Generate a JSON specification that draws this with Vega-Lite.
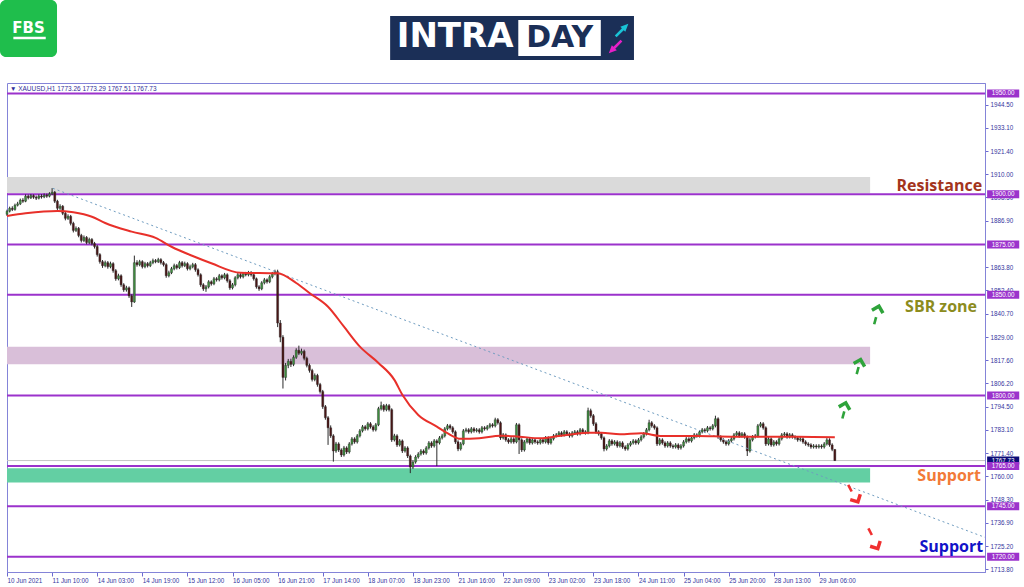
{
"$schema": "https://vega.github.io/schema/vega-lite/v6.json",
"width": 978, "height": 489,
"autosize": {"type": "none"},
"padding": {"left": 7, "top": 83, "right": 39, "bottom": 15},
"background": "white",
"config": {"view": {"stroke": "#8484d8", "strokeWidth": 1}, "text": {"font": "Liberation Sans"}, "scale": {"continuousPadding": 0}},
"resolve": {"scale": {"color": "independent", "size": "independent"}, "axis": {"x": "independent", "y": "independent"}},
"datasets": {
"candles": [
{"i":0,"o":1890.0,"h":1892.3,"l":1889.2,"c":1891.5},{"i":1,"o":1891.5,"h":1893.8,"l":1890.9,"c":1893.0},{"i":2,"o":1893.0,"h":1894.0,"l":1891.6,"c":1892.4},{"i":3,"o":1892.4,"h":1895.3,"l":1891.8,"c":1894.5},{"i":4,"o":1894.5,"h":1896.2,"l":1893.9,"c":1895.2},{"i":5,"o":1895.2,"h":1897.8,"l":1894.6,"c":1897.0},{"i":6,"o":1897.0,"h":1898.0,"l":1895.7,"c":1896.5},{"i":7,"o":1896.5,"h":1899.9,"l":1896.0,"c":1899.0},{"i":8,"o":1899.0,"h":1899.8,"l":1897.4,"c":1898.2},{"i":9,"o":1898.2,"h":1900.1,"l":1897.6,"c":1899.3},
{"i":10,"o":1899.3,"h":1899.9,"l":1897.7,"c":1898.5},{"i":11,"o":1898.5,"h":1899.3,"l":1897.1,"c":1898.0},{"i":12,"o":1898.0,"h":1899.9,"l":1897.4,"c":1899.1},{"i":13,"o":1899.1,"h":1900.0,"l":1897.8,"c":1898.6},{"i":14,"o":1898.6,"h":1900.4,"l":1898.0,"c":1899.5},{"i":15,"o":1899.5,"h":1900.3,"l":1898.2,"c":1899.0},{"i":16,"o":1899.0,"h":1901.0,"l":1898.4,"c":1900.2},{"i":17,"o":1900.2,"h":1903.0,"l":1899.5,"c":1901.0},{"i":18,"o":1901.0,"h":1901.6,"l":1895.6,"c":1896.5},{"i":19,"o":1896.5,"h":1897.2,"l":1892.1,"c":1893.0},
{"i":20,"o":1893.0,"h":1895.0,"l":1892.2,"c":1894.0},{"i":21,"o":1894.0,"h":1894.6,"l":1889.6,"c":1890.5},{"i":22,"o":1890.5,"h":1891.3,"l":1887.0,"c":1888.0},{"i":23,"o":1888.0,"h":1890.0,"l":1887.2,"c":1889.0},{"i":24,"o":1889.0,"h":1889.7,"l":1884.5,"c":1885.5},{"i":25,"o":1885.5,"h":1886.3,"l":1881.0,"c":1882.0},{"i":26,"o":1882.0,"h":1884.0,"l":1881.2,"c":1883.0},{"i":27,"o":1883.0,"h":1883.7,"l":1878.6,"c":1879.5},{"i":28,"o":1879.5,"h":1880.3,"l":1876.0,"c":1877.0},{"i":29,"o":1877.0,"h":1879.5,"l":1876.2,"c":1878.5},
{"i":30,"o":1878.5,"h":1879.2,"l":1875.1,"c":1876.0},{"i":31,"o":1876.0,"h":1878.4,"l":1875.2,"c":1877.5},{"i":32,"o":1877.5,"h":1878.2,"l":1874.6,"c":1875.5},{"i":33,"o":1875.5,"h":1876.3,"l":1873.0,"c":1874.0},{"i":34,"o":1874.0,"h":1874.8,"l":1869.0,"c":1870.0},{"i":35,"o":1870.0,"h":1870.7,"l":1865.5,"c":1866.5},{"i":36,"o":1866.5,"h":1867.3,"l":1863.4,"c":1864.5},{"i":37,"o":1864.5,"h":1867.0,"l":1863.7,"c":1866.0},{"i":38,"o":1866.0,"h":1866.8,"l":1863.0,"c":1864.0},{"i":39,"o":1864.0,"h":1866.5,"l":1863.2,"c":1865.5},
{"i":40,"o":1865.5,"h":1866.2,"l":1861.0,"c":1862.0},{"i":41,"o":1862.0,"h":1862.8,"l":1857.0,"c":1858.0},{"i":42,"o":1858.0,"h":1860.5,"l":1857.2,"c":1859.5},{"i":43,"o":1859.5,"h":1860.2,"l":1854.0,"c":1855.0},{"i":44,"o":1855.0,"h":1855.8,"l":1851.5,"c":1852.5},{"i":45,"o":1852.5,"h":1854.5,"l":1851.6,"c":1853.5},{"i":46,"o":1853.5,"h":1854.2,"l":1848.5,"c":1849.5},{"i":47,"o":1849.5,"h":1850.3,"l":1844.0,"c":1846.5},{"i":48,"o":1846.5,"h":1869.5,"l":1846.0,"c":1866.0},{"i":49,"o":1866.0,"h":1867.2,"l":1864.0,"c":1865.0},
{"i":50,"o":1865.0,"h":1867.4,"l":1864.2,"c":1866.5},{"i":51,"o":1866.5,"h":1867.2,"l":1863.1,"c":1864.0},{"i":52,"o":1864.0,"h":1866.4,"l":1863.2,"c":1865.5},{"i":53,"o":1865.5,"h":1866.3,"l":1863.6,"c":1864.5},{"i":54,"o":1864.5,"h":1866.9,"l":1863.8,"c":1866.0},{"i":55,"o":1866.0,"h":1868.0,"l":1865.2,"c":1867.0},{"i":56,"o":1867.0,"h":1867.8,"l":1865.7,"c":1866.5},{"i":57,"o":1866.5,"h":1868.4,"l":1865.8,"c":1867.5},{"i":58,"o":1867.5,"h":1868.2,"l":1865.1,"c":1866.0},{"i":59,"o":1866.0,"h":1866.8,"l":1864.1,"c":1865.0},
{"i":60,"o":1865.0,"h":1865.7,"l":1858.5,"c":1859.5},{"i":61,"o":1859.5,"h":1862.0,"l":1858.7,"c":1861.0},{"i":62,"o":1861.0,"h":1863.9,"l":1860.3,"c":1863.0},{"i":63,"o":1863.0,"h":1865.5,"l":1862.2,"c":1864.5},{"i":64,"o":1864.5,"h":1865.3,"l":1862.6,"c":1863.5},{"i":65,"o":1863.5,"h":1866.9,"l":1862.8,"c":1866.0},{"i":66,"o":1866.0,"h":1866.8,"l":1863.6,"c":1864.5},{"i":67,"o":1864.5,"h":1866.5,"l":1863.8,"c":1865.5},{"i":68,"o":1865.5,"h":1866.2,"l":1862.1,"c":1863.0},{"i":69,"o":1863.0,"h":1865.0,"l":1862.2,"c":1864.0},
{"i":70,"o":1864.0,"h":1865.9,"l":1863.2,"c":1865.0},{"i":71,"o":1865.0,"h":1865.8,"l":1861.5,"c":1862.5},{"i":72,"o":1862.5,"h":1863.2,"l":1859.1,"c":1860.0},{"i":73,"o":1860.0,"h":1860.7,"l":1854.0,"c":1855.0},{"i":74,"o":1855.0,"h":1855.8,"l":1852.0,"c":1853.0},{"i":75,"o":1853.0,"h":1854.9,"l":1851.5,"c":1854.0},{"i":76,"o":1854.0,"h":1857.3,"l":1853.2,"c":1856.5},{"i":77,"o":1856.5,"h":1857.2,"l":1854.6,"c":1855.5},{"i":78,"o":1855.5,"h":1858.9,"l":1854.8,"c":1858.0},{"i":79,"o":1858.0,"h":1858.8,"l":1856.6,"c":1857.5},
{"i":80,"o":1857.5,"h":1860.4,"l":1856.7,"c":1859.5},{"i":81,"o":1859.5,"h":1860.2,"l":1857.6,"c":1858.5},{"i":82,"o":1858.5,"h":1860.9,"l":1857.7,"c":1860.0},{"i":83,"o":1860.0,"h":1860.7,"l":1856.1,"c":1857.0},{"i":84,"o":1857.0,"h":1857.8,"l":1852.5,"c":1853.5},{"i":85,"o":1853.5,"h":1855.9,"l":1852.7,"c":1855.0},{"i":86,"o":1855.0,"h":1859.3,"l":1854.2,"c":1858.5},{"i":87,"o":1858.5,"h":1860.9,"l":1857.7,"c":1860.0},{"i":88,"o":1860.0,"h":1860.8,"l":1858.1,"c":1859.0},{"i":89,"o":1859.0,"h":1861.3,"l":1858.2,"c":1860.5},
{"i":90,"o":1860.5,"h":1861.4,"l":1859.2,"c":1860.0},{"i":91,"o":1860.0,"h":1861.9,"l":1859.2,"c":1861.0},{"i":92,"o":1861.0,"h":1861.8,"l":1859.1,"c":1860.0},{"i":93,"o":1860.0,"h":1860.7,"l":1857.1,"c":1858.0},{"i":94,"o":1858.0,"h":1858.6,"l":1853.1,"c":1854.0},{"i":95,"o":1854.0,"h":1854.8,"l":1852.0,"c":1853.0},{"i":96,"o":1853.0,"h":1856.8,"l":1852.3,"c":1856.0},{"i":97,"o":1856.0,"h":1858.4,"l":1855.2,"c":1857.5},{"i":98,"o":1857.5,"h":1858.2,"l":1855.6,"c":1856.5},{"i":99,"o":1856.5,"h":1859.9,"l":1855.8,"c":1859.0},
{"i":100,"o":1859.0,"h":1861.4,"l":1858.2,"c":1860.5},{"i":101,"o":1860.5,"h":1862.5,"l":1859.7,"c":1861.5},{"i":102,"o":1861.5,"h":1862.5,"l":1834.0,"c":1836.0},{"i":103,"o":1836.0,"h":1837.5,"l":1826.5,"c":1829.0},{"i":104,"o":1829.0,"h":1830.0,"l":1803.5,"c":1809.0},{"i":105,"o":1809.0,"h":1816.2,"l":1807.5,"c":1815.0},{"i":106,"o":1815.0,"h":1818.2,"l":1813.6,"c":1817.0},{"i":107,"o":1817.0,"h":1818.3,"l":1814.2,"c":1815.5},{"i":108,"o":1815.5,"h":1820.0,"l":1814.6,"c":1819.0},{"i":109,"o":1819.0,"h":1823.5,"l":1818.2,"c":1822.5},
{"i":110,"o":1822.5,"h":1824.8,"l":1820.1,"c":1821.0},{"i":111,"o":1821.0,"h":1823.3,"l":1820.0,"c":1822.0},{"i":112,"o":1822.0,"h":1822.8,"l":1817.5,"c":1818.5},{"i":113,"o":1818.5,"h":1819.3,"l":1814.0,"c":1815.0},{"i":114,"o":1815.0,"h":1815.9,"l":1811.4,"c":1812.5},{"i":115,"o":1812.5,"h":1813.3,"l":1807.0,"c":1808.0},{"i":116,"o":1808.0,"h":1811.0,"l":1807.1,"c":1810.0},{"i":117,"o":1810.0,"h":1810.8,"l":1804.4,"c":1805.5},{"i":118,"o":1805.5,"h":1806.3,"l":1801.0,"c":1802.0},{"i":119,"o":1802.0,"h":1802.8,"l":1793.4,"c":1794.5},
{"i":120,"o":1794.5,"h":1795.3,"l":1788.0,"c":1789.0},{"i":121,"o":1789.0,"h":1789.8,"l":1775.5,"c":1784.0},{"i":122,"o":1784.0,"h":1785.2,"l":1779.0,"c":1780.0},{"i":123,"o":1780.0,"h":1780.8,"l":1767.2,"c":1772.5},{"i":124,"o":1772.5,"h":1777.0,"l":1771.6,"c":1776.0},{"i":125,"o":1776.0,"h":1776.8,"l":1772.0,"c":1773.0},{"i":126,"o":1773.0,"h":1773.8,"l":1769.5,"c":1770.5},{"i":127,"o":1770.5,"h":1775.0,"l":1769.7,"c":1774.0},{"i":128,"o":1774.0,"h":1774.8,"l":1771.0,"c":1772.0},{"i":129,"o":1772.0,"h":1776.9,"l":1771.2,"c":1776.0},
{"i":130,"o":1776.0,"h":1779.4,"l":1775.2,"c":1778.5},{"i":131,"o":1778.5,"h":1779.3,"l":1776.1,"c":1777.0},{"i":132,"o":1777.0,"h":1780.9,"l":1776.2,"c":1780.0},{"i":133,"o":1780.0,"h":1783.4,"l":1779.2,"c":1782.5},{"i":134,"o":1782.5,"h":1785.4,"l":1781.7,"c":1784.5},{"i":135,"o":1784.5,"h":1785.3,"l":1782.6,"c":1783.5},{"i":136,"o":1783.5,"h":1786.9,"l":1782.7,"c":1786.0},{"i":137,"o":1786.0,"h":1786.8,"l":1783.6,"c":1784.5},{"i":138,"o":1784.5,"h":1785.3,"l":1782.1,"c":1783.0},{"i":139,"o":1783.0,"h":1786.4,"l":1782.2,"c":1785.5},
{"i":140,"o":1785.5,"h":1794.4,"l":1784.8,"c":1793.5},{"i":141,"o":1793.5,"h":1797.0,"l":1792.6,"c":1795.0},{"i":142,"o":1795.0,"h":1795.8,"l":1792.0,"c":1793.0},{"i":143,"o":1793.0,"h":1795.9,"l":1792.2,"c":1795.0},{"i":144,"o":1795.0,"h":1795.8,"l":1792.1,"c":1793.0},{"i":145,"o":1793.0,"h":1793.7,"l":1777.0,"c":1778.0},{"i":146,"o":1778.0,"h":1781.0,"l":1777.2,"c":1780.0},{"i":147,"o":1780.0,"h":1780.8,"l":1774.5,"c":1775.5},{"i":148,"o":1775.5,"h":1778.4,"l":1774.7,"c":1777.5},{"i":149,"o":1777.5,"h":1778.2,"l":1771.5,"c":1772.5},
{"i":150,"o":1772.5,"h":1774.9,"l":1771.7,"c":1774.0},{"i":151,"o":1774.0,"h":1774.8,"l":1769.0,"c":1770.0},{"i":152,"o":1770.0,"h":1770.7,"l":1761.5,"c":1764.5},{"i":153,"o":1764.5,"h":1767.9,"l":1763.6,"c":1767.0},{"i":154,"o":1767.0,"h":1770.4,"l":1766.2,"c":1769.5},{"i":155,"o":1769.5,"h":1771.9,"l":1768.7,"c":1771.0},{"i":156,"o":1771.0,"h":1773.4,"l":1770.2,"c":1772.5},{"i":157,"o":1772.5,"h":1773.3,"l":1770.6,"c":1771.5},{"i":158,"o":1771.5,"h":1774.9,"l":1770.7,"c":1774.0},{"i":159,"o":1774.0,"h":1777.4,"l":1773.2,"c":1776.5},
{"i":160,"o":1776.5,"h":1777.3,"l":1774.1,"c":1775.0},{"i":161,"o":1775.0,"h":1778.4,"l":1774.2,"c":1777.5},{"i":162,"o":1777.5,"h":1778.3,"l":1765.0,"c":1776.5},{"i":163,"o":1776.5,"h":1779.9,"l":1775.7,"c":1779.0},{"i":164,"o":1779.0,"h":1781.0,"l":1778.2,"c":1780.0},{"i":165,"o":1780.0,"h":1784.4,"l":1779.2,"c":1783.5},{"i":166,"o":1783.5,"h":1785.9,"l":1782.7,"c":1785.0},{"i":167,"o":1785.0,"h":1785.8,"l":1783.1,"c":1784.0},{"i":168,"o":1784.0,"h":1784.8,"l":1781.1,"c":1782.0},{"i":169,"o":1782.0,"h":1782.7,"l":1776.0,"c":1777.0},
{"i":170,"o":1777.0,"h":1777.8,"l":1772.4,"c":1773.5},{"i":171,"o":1773.5,"h":1776.9,"l":1772.7,"c":1776.0},{"i":172,"o":1776.0,"h":1783.4,"l":1775.3,"c":1782.5},{"i":173,"o":1782.5,"h":1784.0,"l":1781.7,"c":1783.0},{"i":174,"o":1783.0,"h":1783.8,"l":1781.1,"c":1782.0},{"i":175,"o":1782.0,"h":1784.4,"l":1781.2,"c":1783.5},{"i":176,"o":1783.5,"h":1784.3,"l":1781.6,"c":1782.5},{"i":177,"o":1782.5,"h":1783.9,"l":1781.7,"c":1783.0},{"i":178,"o":1783.0,"h":1783.8,"l":1781.1,"c":1782.0},{"i":179,"o":1782.0,"h":1784.9,"l":1781.2,"c":1784.0},
{"i":180,"o":1784.0,"h":1784.8,"l":1782.6,"c":1783.5},{"i":181,"o":1783.5,"h":1785.4,"l":1782.7,"c":1784.5},{"i":182,"o":1784.5,"h":1786.4,"l":1783.7,"c":1785.5},{"i":183,"o":1785.5,"h":1786.3,"l":1784.1,"c":1785.0},{"i":184,"o":1785.0,"h":1789.0,"l":1784.2,"c":1788.0},{"i":185,"o":1788.0,"h":1788.8,"l":1785.6,"c":1786.5},{"i":186,"o":1786.5,"h":1787.2,"l":1778.0,"c":1779.0},{"i":187,"o":1779.0,"h":1781.4,"l":1778.2,"c":1780.5},{"i":188,"o":1780.5,"h":1781.2,"l":1777.1,"c":1778.0},{"i":189,"o":1778.0,"h":1778.8,"l":1776.1,"c":1777.0},
{"i":190,"o":1777.0,"h":1779.4,"l":1776.2,"c":1778.5},{"i":191,"o":1778.5,"h":1779.3,"l":1776.1,"c":1777.0},{"i":192,"o":1777.0,"h":1786.4,"l":1776.3,"c":1785.5},{"i":193,"o":1785.5,"h":1786.2,"l":1771.0,"c":1778.0},{"i":194,"o":1778.0,"h":1778.8,"l":1772.0,"c":1773.0},{"i":195,"o":1773.0,"h":1777.9,"l":1772.2,"c":1777.0},{"i":196,"o":1777.0,"h":1779.4,"l":1776.2,"c":1778.5},{"i":197,"o":1778.5,"h":1779.2,"l":1775.6,"c":1776.5},{"i":198,"o":1776.5,"h":1778.9,"l":1775.7,"c":1778.0},{"i":199,"o":1778.0,"h":1778.8,"l":1776.1,"c":1777.0},
{"i":200,"o":1777.0,"h":1777.8,"l":1775.6,"c":1776.5},{"i":201,"o":1776.5,"h":1778.9,"l":1775.7,"c":1778.0},{"i":202,"o":1778.0,"h":1778.8,"l":1776.1,"c":1777.0},{"i":203,"o":1777.0,"h":1779.9,"l":1776.2,"c":1779.0},{"i":204,"o":1779.0,"h":1779.8,"l":1775.6,"c":1776.5},{"i":205,"o":1776.5,"h":1779.4,"l":1775.7,"c":1778.5},{"i":206,"o":1778.5,"h":1780.9,"l":1777.7,"c":1780.0},{"i":207,"o":1780.0,"h":1781.4,"l":1779.2,"c":1780.5},{"i":208,"o":1780.5,"h":1782.4,"l":1779.7,"c":1781.5},{"i":209,"o":1781.5,"h":1782.3,"l":1779.6,"c":1780.5},
{"i":210,"o":1780.5,"h":1782.9,"l":1779.7,"c":1782.0},{"i":211,"o":1782.0,"h":1782.8,"l":1780.1,"c":1781.0},{"i":212,"o":1781.0,"h":1781.8,"l":1779.1,"c":1780.0},{"i":213,"o":1780.0,"h":1782.4,"l":1779.2,"c":1781.5},{"i":214,"o":1781.5,"h":1782.9,"l":1780.7,"c":1782.0},{"i":215,"o":1782.0,"h":1782.8,"l":1780.1,"c":1781.0},{"i":216,"o":1781.0,"h":1783.9,"l":1780.2,"c":1783.0},{"i":217,"o":1783.0,"h":1783.8,"l":1781.1,"c":1782.0},{"i":218,"o":1782.0,"h":1782.8,"l":1780.6,"c":1781.5},{"i":219,"o":1781.5,"h":1794.0,"l":1780.8,"c":1792.5},
{"i":220,"o":1792.5,"h":1793.5,"l":1789.0,"c":1790.0},{"i":221,"o":1790.0,"h":1790.8,"l":1785.0,"c":1786.0},{"i":222,"o":1786.0,"h":1786.8,"l":1781.0,"c":1782.0},{"i":223,"o":1782.0,"h":1782.8,"l":1780.1,"c":1781.0},{"i":224,"o":1781.0,"h":1781.8,"l":1778.1,"c":1779.0},{"i":225,"o":1779.0,"h":1779.7,"l":1772.3,"c":1773.5},{"i":226,"o":1773.5,"h":1775.9,"l":1772.7,"c":1775.0},{"i":227,"o":1775.0,"h":1778.4,"l":1774.2,"c":1777.5},{"i":228,"o":1777.5,"h":1778.3,"l":1775.1,"c":1776.0},{"i":229,"o":1776.0,"h":1777.9,"l":1775.2,"c":1777.0},
{"i":230,"o":1777.0,"h":1777.8,"l":1774.1,"c":1775.0},{"i":231,"o":1775.0,"h":1777.4,"l":1774.2,"c":1776.5},{"i":232,"o":1776.5,"h":1777.3,"l":1773.6,"c":1774.5},{"i":233,"o":1774.5,"h":1775.3,"l":1772.6,"c":1773.5},{"i":234,"o":1773.5,"h":1776.4,"l":1772.7,"c":1775.5},{"i":235,"o":1775.5,"h":1777.4,"l":1774.7,"c":1776.5},{"i":236,"o":1776.5,"h":1778.4,"l":1775.7,"c":1777.5},{"i":237,"o":1777.5,"h":1778.3,"l":1775.6,"c":1776.5},{"i":238,"o":1776.5,"h":1778.9,"l":1775.7,"c":1778.0},{"i":239,"o":1778.0,"h":1780.4,"l":1777.2,"c":1779.5},
{"i":240,"o":1779.5,"h":1781.9,"l":1778.7,"c":1781.0},{"i":241,"o":1781.0,"h":1783.9,"l":1780.2,"c":1783.0},{"i":242,"o":1783.0,"h":1788.0,"l":1782.2,"c":1786.5},{"i":243,"o":1786.5,"h":1787.3,"l":1784.1,"c":1785.0},{"i":244,"o":1785.0,"h":1785.8,"l":1783.1,"c":1784.0},{"i":245,"o":1784.0,"h":1784.7,"l":1775.0,"c":1776.0},{"i":246,"o":1776.0,"h":1778.9,"l":1775.2,"c":1778.0},{"i":247,"o":1778.0,"h":1778.8,"l":1775.6,"c":1776.5},{"i":248,"o":1776.5,"h":1777.3,"l":1774.1,"c":1775.0},{"i":249,"o":1775.0,"h":1777.4,"l":1774.2,"c":1776.5},
{"i":250,"o":1776.5,"h":1777.3,"l":1774.1,"c":1775.0},{"i":251,"o":1775.0,"h":1775.8,"l":1773.6,"c":1774.5},{"i":252,"o":1774.5,"h":1776.4,"l":1773.7,"c":1775.5},{"i":253,"o":1775.5,"h":1776.3,"l":1773.1,"c":1774.0},{"i":254,"o":1774.0,"h":1775.9,"l":1773.2,"c":1775.0},{"i":255,"o":1775.0,"h":1777.9,"l":1774.2,"c":1777.0},{"i":256,"o":1777.0,"h":1779.4,"l":1776.2,"c":1778.5},{"i":257,"o":1778.5,"h":1779.3,"l":1776.6,"c":1777.5},{"i":258,"o":1777.5,"h":1779.9,"l":1776.7,"c":1779.0},{"i":259,"o":1779.0,"h":1781.4,"l":1778.2,"c":1780.5},
{"i":260,"o":1780.5,"h":1781.3,"l":1779.1,"c":1780.0},{"i":261,"o":1780.0,"h":1782.9,"l":1779.2,"c":1782.0},{"i":262,"o":1782.0,"h":1783.9,"l":1781.2,"c":1783.0},{"i":263,"o":1783.0,"h":1783.8,"l":1781.6,"c":1782.5},{"i":264,"o":1782.5,"h":1784.9,"l":1781.7,"c":1784.0},{"i":265,"o":1784.0,"h":1784.8,"l":1782.6,"c":1783.5},{"i":266,"o":1783.5,"h":1785.9,"l":1782.7,"c":1785.0},{"i":267,"o":1785.0,"h":1790.0,"l":1784.2,"c":1788.5},{"i":268,"o":1788.5,"h":1789.2,"l":1778.5,"c":1779.5},{"i":269,"o":1779.5,"h":1780.3,"l":1777.1,"c":1778.0},
{"i":270,"o":1778.0,"h":1778.8,"l":1776.1,"c":1777.0},{"i":271,"o":1777.0,"h":1777.8,"l":1775.1,"c":1776.0},{"i":272,"o":1776.0,"h":1778.4,"l":1775.2,"c":1777.5},{"i":273,"o":1777.5,"h":1779.4,"l":1776.7,"c":1778.5},{"i":274,"o":1778.5,"h":1781.4,"l":1777.7,"c":1780.5},{"i":275,"o":1780.5,"h":1782.4,"l":1779.7,"c":1781.5},{"i":276,"o":1781.5,"h":1782.3,"l":1779.1,"c":1780.0},{"i":277,"o":1780.0,"h":1781.9,"l":1779.2,"c":1781.0},{"i":278,"o":1781.0,"h":1781.8,"l":1778.6,"c":1779.5},{"i":279,"o":1779.5,"h":1780.2,"l":1770.0,"c":1772.5},
{"i":280,"o":1772.5,"h":1778.9,"l":1771.7,"c":1778.0},{"i":281,"o":1778.0,"h":1780.4,"l":1777.2,"c":1779.5},{"i":282,"o":1779.5,"h":1780.9,"l":1778.7,"c":1780.0},{"i":283,"o":1780.0,"h":1785.9,"l":1779.2,"c":1785.0},{"i":284,"o":1785.0,"h":1786.9,"l":1784.2,"c":1786.0},{"i":285,"o":1786.0,"h":1786.8,"l":1783.1,"c":1784.0},{"i":286,"o":1784.0,"h":1784.7,"l":1775.0,"c":1776.0},{"i":287,"o":1776.0,"h":1779.4,"l":1775.2,"c":1778.5},{"i":288,"o":1778.5,"h":1779.2,"l":1774.6,"c":1775.5},{"i":289,"o":1775.5,"h":1777.9,"l":1774.7,"c":1777.0},
{"i":290,"o":1777.0,"h":1777.8,"l":1775.1,"c":1776.0},{"i":291,"o":1776.0,"h":1779.4,"l":1775.2,"c":1778.5},{"i":292,"o":1778.5,"h":1781.4,"l":1777.7,"c":1780.5},{"i":293,"o":1780.5,"h":1781.9,"l":1779.7,"c":1781.0},{"i":294,"o":1781.0,"h":1781.8,"l":1778.6,"c":1779.5},{"i":295,"o":1779.5,"h":1781.4,"l":1778.7,"c":1780.5},{"i":296,"o":1780.5,"h":1781.3,"l":1778.6,"c":1779.5},{"i":297,"o":1779.5,"h":1780.3,"l":1778.1,"c":1779.0},{"i":298,"o":1779.0,"h":1779.8,"l":1777.1,"c":1778.0},{"i":299,"o":1778.0,"h":1779.4,"l":1777.2,"c":1778.5},
{"i":300,"o":1778.5,"h":1779.3,"l":1776.1,"c":1777.0},{"i":301,"o":1777.0,"h":1777.8,"l":1775.1,"c":1776.0},{"i":302,"o":1776.0,"h":1776.8,"l":1774.6,"c":1775.5},{"i":303,"o":1775.5,"h":1776.3,"l":1773.6,"c":1774.5},{"i":304,"o":1774.5,"h":1775.9,"l":1773.7,"c":1775.0},{"i":305,"o":1775.0,"h":1775.8,"l":1773.6,"c":1774.5},{"i":306,"o":1774.5,"h":1775.9,"l":1773.7,"c":1775.0},{"i":307,"o":1775.0,"h":1775.8,"l":1773.6,"c":1774.5},{"i":308,"o":1774.5,"h":1776.9,"l":1773.7,"c":1776.0},{"i":309,"o":1776.0,"h":1778.9,"l":1775.2,"c":1778.0},
{"i":310,"o":1778.0,"h":1778.8,"l":1774.6,"c":1775.5},{"i":311,"o":1775.5,"h":1776.3,"l":1772.4,"c":1773.3},{"i":312,"o":1773.26,"h":1773.29,"l":1767.51,"c":1767.73}
],
"ma": [
{"i":0,"p":1889.2},{"i":7,"p":1890.5},{"i":19,"p":1891.7},{"i":25,"p":1891.0},{"i":32,"p":1888.8},{"i":37,"p":1885.7},{"i":47,"p":1881.4},{"i":56,"p":1878.3},{"i":62,"p":1873.9},{"i":70,"p":1869.3},{"i":77,"p":1865.7},{"i":88,"p":1861.0},{"i":102,"p":1860.7},{"i":109,"p":1855.9},{"i":114,"p":1850.9},{"i":121,"p":1844.1},{"i":127,"p":1834.2},{"i":133,"p":1824.3},{"i":140,"p":1816.2},{"i":146,"p":1807.8},{"i":149,"p":1800.4},{"i":155,"p":1790.4},{"i":162,"p":1784.6},{"i":166,"p":1781.3},{"i":171,"p":1778.5},{"i":178,"p":1778.8},{"i":186,"p":1780.1},{"i":193,"p":1779.6},{"i":201,"p":1778.8},{"i":208,"p":1779.9},{"i":219,"p":1781.6},{"i":224,"p":1781.6},{"i":231,"p":1780.8},{"i":239,"p":1781.3},{"i":247,"p":1779.9},{"i":260,"p":1779.9},{"i":273,"p":1779.6},{"i":285,"p":1779.6},{"i":298,"p":1779.6},{"i":312,"p":1779.3}
],
"levels": [{"lv":1950,"lab":"1950.00"},{"lv":1900,"lab":"1900.00"},{"lv":1875,"lab":"1875.00"},{"lv":1850,"lab":"1850.00"},{"lv":1800,"lab":"1800.00"},{"lv":1765,"lab":"1765.00"},{"lv":1745,"lab":"1745.00"},{"lv":1720,"lab":"1720.00"}]
},
"layer": [
{
 "data": {"values": [{"a":0,"b":325.3,"p1":1900.5,"p2":1908.5,"z":"res"},{"a":0,"b":325.3,"p1":1815.5,"p2":1824.3,"z":"sbr"},{"a":0,"b":325.3,"p1":1756.8,"p2":1763.9,"z":"sup"}]},
 "mark": {"type": "rect"},
 "encoding": {
  "x": {"field": "a", "type": "quantitative", "scale": {"domain": [0, 368.6], "nice": false, "zero": false},
   "axis": {"orient": "bottom", "title": null, "grid": false, "values": [0,17,34,51,68,85,102,119,136,153,170,187,204,221,238,255,272,289,306],
    "labelExpr": "['10 Jun 2021','11 Jun 10:00','14 Jun 03:00','14 Jun 19:00','15 Jun 12:00','16 Jun 05:00','16 Jun 21:00','17 Jun 14:00','18 Jun 07:00','18 Jun 23:00','21 Jun 16:00','22 Jun 09:00','23 Jun 02:00','23 Jun 18:00','24 Jun 11:00','25 Jun 04:00','25 Jun 20:00','28 Jun 13:00','29 Jun 06:00'][round(datum.value/17)]",
    "labelAlign": "left", "labelBaseline": "top", "labelPadding": 1, "tickSize": 4, "labelFont": "Liberation Sans", "labelFontSize": 6.3, "labelColor": "#3535a0", "tickColor": "#6a6ad0", "domainColor": "#8484d8", "labelOverlap": false, "labelFlush": false, "labelBound": false}},
  "x2": {"field": "b"},
  "y": {"field": "p1", "type": "quantitative", "scale": {"domain": [1712.4, 1955.2], "nice": false, "zero": false},
   "axis": {"orient": "right", "title": null, "grid": false, "values": [1944.5,1933.1,1921.4,1910.0,1898.5,1886.9,1863.8,1852.4,1840.7,1829.0,1817.6,1806.2,1794.5,1783.1,1771.4,1760.0,1748.3,1736.9,1725.2,1713.8],
    "format": ".2f", "labelAlign": "left", "labelBaseline": "middle", "labelPadding": 2, "tickSize": 3, "labelFont": "Liberation Sans", "labelFontSize": 6.3, "labelColor": "#3535a0", "tickColor": "#6a6ad0", "domainColor": "#8484d8", "labelOverlap": false, "labelFlush": false, "labelBound": false}},
  "y2": {"field": "p2"},
  "color": {"field": "z", "type": "nominal", "scale": {"domain": ["res","sbr","sup"], "range": ["#dadada","#d9bfd9","#63cfa3"]}, "legend": null}
 }
},
{
 "data": {"name": "levels"},
 "mark": {"type": "rule", "color": "#9b32cc", "strokeWidth": 2},
 "encoding": {"y": {"field": "lv", "type": "quantitative", "scale": {"domain": [1712.4, 1955.2], "nice": false, "zero": false}, "axis": null}}
},
{
 "data": {"values": [{"p": 1767.73}]},
 "mark": {"type": "rule", "color": "#c4c4c4", "strokeWidth": 1},
 "encoding": {"y": {"field": "p", "type": "quantitative", "scale": {"domain": [1712.4, 1955.2], "nice": false, "zero": false}, "axis": null}}
},
{
 "data": {"name": "candles"},
 "mark": {"type": "rule", "color": "#2b2b2b", "strokeWidth": 1},
 "encoding": {
  "x": {"field": "i", "type": "quantitative", "scale": {"domain": [0, 368.6], "nice": false, "zero": false}, "axis": null},
  "y": {"field": "l", "type": "quantitative", "scale": {"domain": [1712.4, 1955.2], "nice": false, "zero": false}, "axis": null},
  "y2": {"field": "h"}
 }
},
{
 "data": {"name": "candles"},
 "mark": {"type": "bar", "size": 2, "stroke": "#2b2b2b", "strokeWidth": 0.4},
 "encoding": {
  "x": {"field": "i", "type": "quantitative", "scale": {"domain": [0, 368.6], "nice": false, "zero": false}, "axis": null},
  "y": {"field": "o", "type": "quantitative", "scale": {"domain": [1712.4, 1955.2], "nice": false, "zero": false}, "axis": null},
  "y2": {"field": "c"},
  "color": {"condition": {"test": "datum.c >= datum.o", "value": "#3f8f3f"}, "value": "#4a1515"}
 }
},
{
 "data": {"values": [{"i": 17.3, "p": 1902.9}, {"i": 368.6, "p": 1729.6}]},
 "mark": {"type": "line", "color": "#6f9cc0", "strokeWidth": 1, "strokeDash": [2, 3]},
 "encoding": {
  "x": {"field": "i", "type": "quantitative", "scale": {"domain": [0, 368.6], "nice": false, "zero": false}, "axis": null},
  "y": {"field": "p", "type": "quantitative", "scale": {"domain": [1712.4, 1955.2], "nice": false, "zero": false}, "axis": null}
 }
},
{
 "data": {"name": "ma"},
 "mark": {"type": "line", "color": "#e8302a", "strokeWidth": 2, "interpolate": "monotone"},
 "encoding": {
  "x": {"field": "i", "type": "quantitative", "scale": {"domain": [0, 368.6], "nice": false, "zero": false}, "axis": null},
  "y": {"field": "p", "type": "quantitative", "scale": {"domain": [1712.4, 1955.2], "nice": false, "zero": false}, "axis": null}
 }
},
{
 "data": {"values": [{"t": "Resistance", "i": 367.5, "p": 1904.1}]},
 "mark": {"type": "text", "align": "right", "baseline": "middle", "font": "Open Sans", "fontWeight": "bold", "fontSize": 16, "color": "#a3341c"},
 "encoding": {
  "x": {"field": "i", "type": "quantitative", "scale": {"domain": [0, 368.6], "nice": false, "zero": false}, "axis": null},
  "y": {"field": "p", "type": "quantitative", "scale": {"domain": [1712.4, 1955.2], "nice": false, "zero": false}, "axis": null},
  "text": {"field": "t"}
 }
},
{
 "data": {"values": [{"t": "SBR zone", "i": 365.6, "p": 1844.0}]},
 "mark": {"type": "text", "align": "right", "baseline": "middle", "font": "Open Sans", "fontWeight": "bold", "fontSize": 16, "color": "#8c8c1e"},
 "encoding": {
  "x": {"field": "i", "type": "quantitative", "scale": {"domain": [0, 368.6], "nice": false, "zero": false}, "axis": null},
  "y": {"field": "p", "type": "quantitative", "scale": {"domain": [1712.4, 1955.2], "nice": false, "zero": false}, "axis": null},
  "text": {"field": "t"}
 }
},
{
 "data": {"values": [{"t": "Support", "i": 367.1, "p": 1759.9}]},
 "mark": {"type": "text", "align": "right", "baseline": "middle", "font": "Open Sans", "fontWeight": "bold", "fontSize": 16, "color": "#f27a38"},
 "encoding": {
  "x": {"field": "i", "type": "quantitative", "scale": {"domain": [0, 368.6], "nice": false, "zero": false}, "axis": null},
  "y": {"field": "p", "type": "quantitative", "scale": {"domain": [1712.4, 1955.2], "nice": false, "zero": false}, "axis": null},
  "text": {"field": "t"}
 }
},
{
 "data": {"values": [{"t": "Support", "i": 367.9, "p": 1724.8}]},
 "mark": {"type": "text", "align": "right", "baseline": "middle", "font": "Open Sans", "fontWeight": "bold", "fontSize": 16, "color": "#1212c8"},
 "encoding": {
  "x": {"field": "i", "type": "quantitative", "scale": {"domain": [0, 368.6], "nice": false, "zero": false}, "axis": null},
  "y": {"field": "p", "type": "quantitative", "scale": {"domain": [1712.4, 1955.2], "nice": false, "zero": false}, "axis": null},
  "text": {"field": "t"}
 }
},
{
 "data": {"values": [{"i": 315.2, "p": 1790.4}, {"i": 320.6, "p": 1812.4}, {"i": 327.2, "p": 1837.2}]},
 "mark": {"type": "point", "shape": "M-0.35,-1L0.35,-1L0.35,1L-0.35,1Z", "filled": true, "size": 55, "angle": 15, "color": "#2ea33a", "opacity": 1},
 "encoding": {
  "x": {"field": "i", "type": "quantitative", "scale": {"domain": [0, 368.6], "nice": false, "zero": false}, "axis": null},
  "y": {"field": "p", "type": "quantitative", "scale": {"domain": [1712.4, 1955.2], "nice": false, "zero": false}, "axis": null}
 }
},
{
 "data": {"values": [{"i": 315.9, "p": 1795.3}, {"i": 321.5, "p": 1816.8}, {"i": 328.4, "p": 1843.3}]},
 "mark": {"type": "point", "shape": "M-1,0.6L0,-0.4L1,0.6", "filled": false, "size": 130, "angle": 15, "color": "#2ea33a", "strokeWidth": 3.5, "opacity": 1},
 "encoding": {
  "x": {"field": "i", "type": "quantitative", "scale": {"domain": [0, 368.6], "nice": false, "zero": false}, "axis": null},
  "y": {"field": "p", "type": "quantitative", "scale": {"domain": [1712.4, 1955.2], "nice": false, "zero": false}, "axis": null}
 }
},
{
 "data": {"values": [{"i": 317.7, "p": 1754.0}, {"i": 325.3, "p": 1732.4}]},
 "mark": {"type": "point", "shape": "M-0.35,-1L0.35,-1L0.35,1L-0.35,1Z", "filled": true, "size": 55, "angle": 152, "color": "#f03030", "opacity": 1},
 "encoding": {
  "x": {"field": "i", "type": "quantitative", "scale": {"domain": [0, 368.6], "nice": false, "zero": false}, "axis": null},
  "y": {"field": "p", "type": "quantitative", "scale": {"domain": [1712.4, 1955.2], "nice": false, "zero": false}, "axis": null}
 }
},
{
 "data": {"values": [{"i": 320.3, "p": 1748.2}, {"i": 327.8, "p": 1725.0}]},
 "mark": {"type": "point", "shape": "M-1,0.6L0,-0.4L1,0.6", "filled": false, "size": 130, "angle": 152, "color": "#f03030", "strokeWidth": 3.5, "opacity": 1},
 "encoding": {
  "x": {"field": "i", "type": "quantitative", "scale": {"domain": [0, 368.6], "nice": false, "zero": false}, "axis": null},
  "y": {"field": "p", "type": "quantitative", "scale": {"domain": [1712.4, 1955.2], "nice": false, "zero": false}, "axis": null}
 }
},
{
 "data": {"values": [{"p": 1767.73}]},
 "mark": {"type": "bar", "size": 8, "color": "#0c0c78"},
 "encoding": {
  "x": {"datum": 369.4, "type": "quantitative", "scale": {"domain": [0, 368.6], "nice": false, "zero": false}, "axis": null},
  "x2": {"datum": 381.5},
  "y": {"field": "p", "type": "quantitative", "scale": {"domain": [1712.4, 1955.2], "nice": false, "zero": false}, "axis": null}
 }
},
{
 "data": {"values": [{"p": 1767.73, "lab": "1767.73"}]},
 "mark": {"type": "text", "color": "white", "fontSize": 6.3, "font": "Liberation Sans", "align": "center", "baseline": "middle"},
 "encoding": {
  "x": {"datum": 375.45, "type": "quantitative", "scale": {"domain": [0, 368.6], "nice": false, "zero": false}, "axis": null},
  "y": {"field": "p", "type": "quantitative", "scale": {"domain": [1712.4, 1955.2], "nice": false, "zero": false}, "axis": null},
  "text": {"field": "lab"}
 }
},
{
 "data": {"name": "levels"},
 "mark": {"type": "bar", "size": 8, "color": "#9b32cc"},
 "encoding": {
  "x": {"datum": 369.4, "type": "quantitative", "scale": {"domain": [0, 368.6], "nice": false, "zero": false}, "axis": null},
  "x2": {"datum": 381.5},
  "y": {"field": "lv", "type": "quantitative", "scale": {"domain": [1712.4, 1955.2], "nice": false, "zero": false}, "axis": null}
 }
},
{
 "data": {"name": "levels"},
 "mark": {"type": "text", "color": "white", "fontSize": 6.3, "font": "Liberation Sans", "align": "center", "baseline": "middle"},
 "encoding": {
  "x": {"datum": 375.45, "type": "quantitative", "scale": {"domain": [0, 368.6], "nice": false, "zero": false}, "axis": null},
  "y": {"field": "lv", "type": "quantitative", "scale": {"domain": [1712.4, 1955.2], "nice": false, "zero": false}, "axis": null},
  "text": {"field": "lab"}
 }
},
{
 "data": {"values": [{"t": "▼  XAUUSD,H1  1773.26 1773.29 1767.51 1767.73", "i": 1.1, "p": 1952.3}]},
 "mark": {"type": "text", "align": "left", "baseline": "middle", "fontSize": 6.5, "font": "Liberation Sans", "color": "#2f2f9a"},
 "encoding": {
  "x": {"field": "i", "type": "quantitative", "scale": {"domain": [0, 368.6], "nice": false, "zero": false}, "axis": null},
  "y": {"field": "p", "type": "quantitative", "scale": {"domain": [1712.4, 1955.2], "nice": false, "zero": false}, "axis": null},
  "text": {"field": "t"}
 }
},
{
 "data": {"values": [{"a": -2.64, "b": 18.85, "p1": 1968.1, "p2": 1996.4}]},
 "mark": {"type": "rect", "cornerRadius": 6, "color": "#1fbe4c"},
 "encoding": {
  "x": {"field": "a", "type": "quantitative", "scale": {"domain": [0, 368.6], "nice": false, "zero": false}, "axis": null},
  "x2": {"field": "b"},
  "y": {"field": "p1", "type": "quantitative", "scale": {"domain": [1712.4, 1955.2], "nice": false, "zero": false}, "axis": null},
  "y2": {"field": "p2"}
 }
},
{
 "data": {"values": [{"a": 144.4, "b": 236.3, "p1": 1966.6, "p2": 1988.5}]},
 "mark": {"type": "rect", "color": "#1b2f57"},
 "encoding": {
  "x": {"field": "a", "type": "quantitative", "scale": {"domain": [0, 368.6], "nice": false, "zero": false}, "axis": null},
  "x2": {"field": "b"},
  "y": {"field": "p1", "type": "quantitative", "scale": {"domain": [1712.4, 1955.2], "nice": false, "zero": false}, "axis": null},
  "y2": {"field": "p2"}
 }
},
{
 "data": {"values": [{"a": 192.7, "b": 223.8, "p1": 1968.6, "p2": 1986.5}]},
 "mark": {"type": "rect", "color": "#ffffff"},
 "encoding": {
  "x": {"field": "a", "type": "quantitative", "scale": {"domain": [0, 368.6], "nice": false, "zero": false}, "axis": null},
  "x2": {"field": "b"},
  "y": {"field": "p1", "type": "quantitative", "scale": {"domain": [1712.4, 1955.2], "nice": false, "zero": false}, "axis": null},
  "y2": {"field": "p2"}
 }
},
{
 "data": {"values": [{"a": 2.4, "b": 14.6, "p": 1977.6}]},
 "mark": {"type": "rule", "color": "white", "strokeWidth": 2.5},
 "encoding": {
  "x": {"field": "a", "type": "quantitative", "scale": {"domain": [0, 368.6], "nice": false, "zero": false}, "axis": null},
  "x2": {"field": "b"},
  "y": {"field": "p", "type": "quantitative", "scale": {"domain": [1712.4, 1955.2], "nice": false, "zero": false}, "axis": null}
 }
},
{
 "data": {"values": [{"t": "FBS", "i": 8.1, "p": 1982.3}]},
 "mark": {"type": "text", "align": "center", "baseline": "middle", "font": "DejaVu Sans", "fontWeight": "bold", "fontSize": 15, "color": "#ffffff"},
 "encoding": {
  "x": {"field": "i", "type": "quantitative", "scale": {"domain": [0, 368.6], "nice": false, "zero": false}, "axis": null},
  "y": {"field": "p", "type": "quantitative", "scale": {"domain": [1712.4, 1955.2], "nice": false, "zero": false}, "axis": null},
  "text": {"field": "t"}
 }
},
{
 "data": {"values": [{"t": "INTRA", "i": 168.9, "p": 1977.8}]},
 "mark": {"type": "text", "align": "center", "baseline": "middle", "font": "DejaVu Sans", "fontWeight": "bold", "fontSize": 34, "color": "#ffffff"},
 "encoding": {
  "x": {"field": "i", "type": "quantitative", "scale": {"domain": [0, 368.6], "nice": false, "zero": false}, "axis": null},
  "y": {"field": "p", "type": "quantitative", "scale": {"domain": [1712.4, 1955.2], "nice": false, "zero": false}, "axis": null},
  "text": {"field": "t"}
 }
},
{
 "data": {"values": [{"t": "DAY", "i": 208.3, "p": 1977.6}]},
 "mark": {"type": "text", "align": "center", "baseline": "middle", "font": "DejaVu Sans", "fontWeight": "bold", "fontSize": 30, "color": "#1b2f57"},
 "encoding": {
  "x": {"field": "i", "type": "quantitative", "scale": {"domain": [0, 368.6], "nice": false, "zero": false}, "axis": null},
  "y": {"field": "p", "type": "quantitative", "scale": {"domain": [1712.4, 1955.2], "nice": false, "zero": false}, "axis": null},
  "text": {"field": "t"}
 }
},
{
 "data": {"values": [{"i": 231.8, "p": 1981.5}]},
 "mark": {"type": "point", "shape": "arrow", "filled": true, "size": 320, "angle": 45, "color": "#19c3d6", "opacity": 1},
 "encoding": {
  "x": {"field": "i", "type": "quantitative", "scale": {"domain": [0, 368.6], "nice": false, "zero": false}, "axis": null},
  "y": {"field": "p", "type": "quantitative", "scale": {"domain": [1712.4, 1955.2], "nice": false, "zero": false}, "axis": null}
 }
},
{
 "data": {"values": [{"i": 229.2, "p": 1973.1}]},
 "mark": {"type": "point", "shape": "arrow", "filled": true, "size": 320, "angle": 225, "color": "#e620c8", "opacity": 1},
 "encoding": {
  "x": {"field": "i", "type": "quantitative", "scale": {"domain": [0, 368.6], "nice": false, "zero": false}, "axis": null},
  "y": {"field": "p", "type": "quantitative", "scale": {"domain": [1712.4, 1955.2], "nice": false, "zero": false}, "axis": null}
 }
}
]
}
